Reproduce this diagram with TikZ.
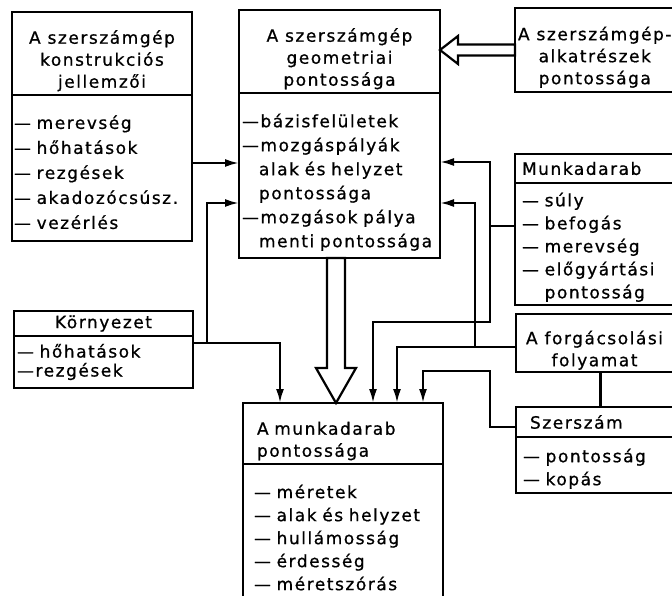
\documentclass[tikz,border=0pt]{standalone}
\usepackage{fontspec}
\setmainfont{DejaVu Sans}[LetterSpace=9,FakeBold=0.8]
\usetikzlibrary{arrows.meta,positioning}
\newcommand{\topgap}[1]{\rule{0pt}{#1}}
\tikzstyle{head} = [
  draw,
  rectangle,
  anchor=north west,
  outer sep=0pt,
  inner xsep=3pt,
  inner ysep=1pt,
  align=center,
  font=\fontsize{17}{22}\selectfont,
]
\tikzstyle{list} = [
  draw,
  rectangle,
  outer sep=0pt,
  inner xsep=3pt,
  align=left,
  font=\fontsize{17}{23}\selectfont,
]
\tikzstyle{link} = [
  -{Latex[length=14pt,width=8pt]},
]
\tikzstyle{hollow} = [
  fill=white,
]

\begin{document}
\begin{tikzpicture}[
    x=1pt,
    y=-1pt,
    line width=2.2pt,
    node distance=0pt,
  ]
  \useasboundingbox (0,0) rectangle (672,596);
  % left column
  \node[head, minimum width=180pt, minimum height=83pt]
    (konstr) at (12,12) {\topgap{28pt}A szerszámgép\\konstrukciós\\jellemzői};
  \node[list, below=of konstr, minimum height=146pt, inner xsep=2pt,
    text width=176pt, font=\fontsize{17}{25}\selectfont]
    (konstrl) {\topgap{22pt}--- merevség\\--- hőhatások\\--- rezgések\\--- akadozócsúsz.\\--- vezérlés};
  \node[head, minimum width=179pt, minimum height=25pt]
    (kornyezet) at (14,311) {Környezet};
  \node[list, below=of kornyezet, minimum height=52pt, text width=173pt,
    font=\fontsize{17}{19}\selectfont]
    (kornyezetl) {--- hőhatások\\---rezgések};
  % middle column
  \node[head, minimum width=201pt, minimum height=83pt]
    (geom) at (239,10) {\topgap{28pt}A szerszámgép\\geometriai\\pontossága};
  \node[list, below=of geom, minimum height=165pt, text width=195pt,
    font=\fontsize{17}{24}\selectfont]
    (geoml) {\topgap{27pt}---bázisfelületek\\---mozgáspályák\\\hphantom{---}alak és helyzet\\\hphantom{---}pontossága\\---mozgások pálya\\\hphantom{---}menti pontossága};
  \node[head, minimum width=200pt, minimum height=61pt, align=left,
    inner xsep=14pt, text width=172pt]
    (munka) at (243,403) {\topgap{28pt}A munkadarab\\pontossága};
  \node[list, below=of munka, minimum height=147pt, inner xsep=11pt,
    text width=178pt]
    (munkal) {--- méretek\\--- alak és helyzet\\--- hullámosság\\--- érdesség\\--- méretszórás};
  % right column
  \node[head, minimum width=158pt, minimum height=84pt]
    (alkat) at (515,8) {\topgap{28pt}A szerszámgép-\\alkatrészek\\pontossága};
  \node[head, minimum width=158pt, minimum height=29pt, align=left,
    inner xsep=7pt, text width=144pt]
    (darab) at (515,154) {Munkadarab};
  \node[list, below=of darab, minimum height=120pt, inner xsep=7pt,
    text width=144pt]
    (darabl) {\topgap{20pt}--- súly\\--- befogás\\--- merevség\\--- előgyártási\\\hphantom{--- }pontosság};
  \node[head, minimum width=157pt, minimum height=58pt]
    (forg) at (516,314) {\topgap{28pt}A forgácsolási\\folyamat};
  \node[head, minimum width=157pt, minimum height=30pt, align=left,
    inner xsep=14pt, text width=129pt]
    (szersz) at (516,407) {Szerszám};
  \node[list, below=of szersz, minimum height=56pt, inner xsep=7pt,
    text width=143pt]
    (szerszl) {\topgap{21pt}--- pontosság\\--- kopás};
  % junctions
  \coordinate (kj) at ([xshift=14pt,yshift=-7pt]kornyezetl.north east);
  \coordinate (dj) at ([xshift=-25pt,yshift=18pt]darabl.west);
  \coordinate (fj) at ([xshift=-41pt,yshift=-4pt]forg.west);
  % connectors
  \draw[link] ([yshift=5pt]konstrl.east) -- ([yshift=5pt]konstrl.east -| geoml.west);
  \draw[link] ([yshift=-7pt]kornyezetl.north east) -| ([xshift=37pt]munka.north west);
  \draw[link] (kj) |- ([yshift=-110pt]geoml.north west);
  \draw ([yshift=18pt]darabl.west) -- (dj);
  \draw[link] (dj) |- ([yshift=-69pt]geoml.north east);
  \draw[link] (dj) |- ([xshift=130pt,yshift=81pt]munka.north west)
    -- ([xshift=130pt]munka.north west);
  \draw[link] ([yshift=-4pt]forg.west) -| ([xshift=154pt]munka.north west);
  \draw[link] (fj) |- ([yshift=-110pt]geoml.north east);
  \draw ([xshift=6pt]forg.south) -- ([xshift=6pt]szersz.north);
  \draw[link] ([yshift=-5pt]szersz.west) -- ++(-26,0)
    |- ([xshift=180pt,yshift=32pt]munka.north west)
    -- ([xshift=180pt]munka.north west);
  % wide arrows
  \draw[hollow] (alkat.west -| geom.east) -- ++(18,-14) -- ++(0,8.5)
    -- ++(57,0) -- ++(0,11) -- ++(-57,0) -- ++(0,8.5) -- cycle;
  \draw[hollow] ([xshift=-7pt]munka.north) -- ++(-20,-35) -- ++(11,0)
    -- ++(0,-110) -- ++(18,0) -- ++(0,110) -- ++(11,0) -- cycle;
\end{tikzpicture}
\end{document}
